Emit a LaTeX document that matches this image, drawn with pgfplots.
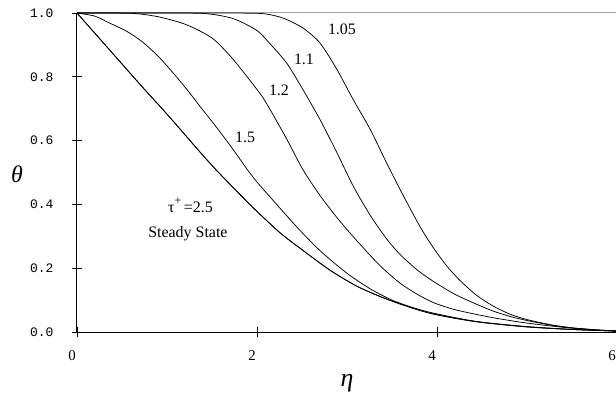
\documentclass[border=0pt]{standalone}
\usepackage{fontspec}
\setmainfont{Liberation Serif}
\newfontfamily\tickmono{Liberation Mono}
\usepackage{pgfplots}
\pgfplotsset{compat=1.18}

\begin{document}
\begin{tikzpicture}[x=1bp,y=1bp,
  curve/.style={black, line width=0.75bp, smooth, tension=0.45, mark=none},
  lbl/.style={font=\fontsize{16}{19}\selectfont}]
\begin{axis}[
  at={(0,0)}, anchor=south west,
  scale only axis, width=540bp, height=319bp,
  xmin=0, xmax=6, ymin=0, ymax=1,
  axis x line*=bottom, axis y line*=left,
  axis line style={black, line width=1bp, -},
  xtick={0,2,4,6}, ytick={0,0.2,0.4,0.6,0.8,1},
  tick align=center, major tick length=10bp,
  tick style={black, line width=0.9bp},
  /pgf/number format/assume math mode=true,
  yticklabel style={font=\tickmono\fontsize{13}{15}\selectfont, xshift=-15bp,
    /pgf/number format/.cd, fixed, fixed zerofill, precision=1},
  xticklabel style={font=\fontsize{15}{18}\selectfont, xshift=-5bp, yshift=-10bp},
  clip mode=individual,
]
% top edge of the frame
\draw[gray!70, line width=1bp] (rel axis cs:0,1) -- (rel axis cs:1,1);

% tau+ = 1.05
\addplot[curve] coordinates {
(0,1) (1.5,1) (2.0,0.999) (2.14,0.995) (2.3,0.983) (2.51,0.953) (2.70,0.906)
(2.89,0.822) (3.07,0.728) (3.26,0.634) (3.44,0.530) (3.63,0.425) (3.81,0.331)
(3.95,0.268) (4.1,0.21) (4.25,0.163) (4.44,0.115) (4.62,0.082) (4.81,0.056)
(5.0,0.039) (5.26,0.023) (5.5,0.013) (5.8,0.006) (6,0.003)};
% tau+ = 1.1
\addplot[curve] coordinates {
(0,1) (1.2,1) (1.5,0.996) (1.75,0.981) (2.0,0.945) (2.14,0.905) (2.33,0.843)
(2.51,0.760) (2.70,0.666) (2.89,0.561) (3.07,0.457) (3.26,0.365) (3.44,0.292)
(3.6,0.24) (3.8,0.19) (3.98,0.155) (4.2,0.118) (4.44,0.087) (4.62,0.066)
(4.81,0.049) (5.0,0.036) (5.26,0.022) (5.5,0.013) (5.8,0.006) (6,0.003)};
% tau+ = 1.2
\addplot[curve] coordinates {
(0,1) (0.6,0.999) (0.87,0.99) (1.05,0.978) (1.2,0.965) (1.37,0.943) (1.53,0.915)
(1.74,0.853) (2.03,0.749) (2.14,0.700) (2.33,0.605) (2.51,0.509) (2.70,0.428)
(2.89,0.358) (3.05,0.305) (3.2,0.258) (3.37,0.207) (3.59,0.153) (3.8,0.115)
(3.98,0.09) (4.2,0.07) (4.44,0.055) (4.62,0.045) (4.81,0.036) (5.0,0.028)
(5.26,0.019) (5.5,0.012) (5.8,0.006) (6,0.004)};
% tau+ = 1.5
\addplot[curve] coordinates {
(0,1) (0.2,0.99) (0.35,0.97) (0.55,0.943) (0.72,0.911) (0.9,0.865) (1.09,0.805)
(1.25,0.75) (1.37,0.706) (1.533,0.648) (1.74,0.57) (1.885,0.512) (2.0,0.47)
(2.14,0.425) (2.44,0.33) (2.7,0.255) (3.0,0.184) (3.26,0.135) (3.5,0.1)
(3.75,0.075) (3.98,0.058) (4.44,0.033) (5.0,0.017) (5.5,0.008) (6,0.003)};
% tau+ = 2.5
\addplot[curve] coordinates {
(0,1) (0.36,0.885) (0.72,0.77) (1.0,0.683) (1.37,0.563) (1.533,0.512) (1.70,0.463)
(1.85,0.42) (2.0,0.378) (2.26,0.31) (2.5,0.258) (2.81,0.194) (3.1,0.145)
(3.37,0.111) (3.65,0.082) (3.92,0.059) (4.2,0.043) (4.5,0.03) (5.0,0.016)
(5.5,0.008) (6,0.003)};
% steady state
\addplot[curve] coordinates {
(0,1) (0.36,0.885) (0.72,0.77) (1.0,0.683) (1.37,0.563) (1.533,0.512) (1.70,0.463)
(1.85,0.42) (2.0,0.378) (2.26,0.31) (2.5,0.258) (2.81,0.194) (3.1,0.145)
(3.37,0.111) (3.65,0.082) (3.92,0.059) (4.2,0.043) (4.5,0.03) (5.0,0.016)
(5.5,0.008) (6,0.003)};

% curve labels
\node[lbl] at (axis cs:2.944,0.948) {1.05};
\node[lbl] at (axis cs:2.522,0.854) {1.1};
\node[lbl] at (axis cs:2.244,0.759) {1.2};
\node[lbl] at (axis cs:1.867,0.611) {1.5};
\node[lbl, anchor=base west, inner sep=0pt] at (axis cs:1.01,0.376)
  {τ\raisebox{0.45em}{\fontsize{12}{12}\selectfont +}\,=2.5};
\node[lbl, anchor=base west, inner sep=0pt] at (axis cs:0.79,0.295) {Steady State};

% axis titles
\node[font=\fontsize{24}{28}\selectfont\itshape] at (rel axis cs:-0.111,0.495) {θ};
\node[font=\fontsize{26}{30}\selectfont\itshape] at (rel axis cs:0.5,-0.16) {η};
\end{axis}
\pgfresetboundingbox
\path[use as bounding box] (-77,-65) rectangle (539,332);
\end{tikzpicture}
\end{document}
